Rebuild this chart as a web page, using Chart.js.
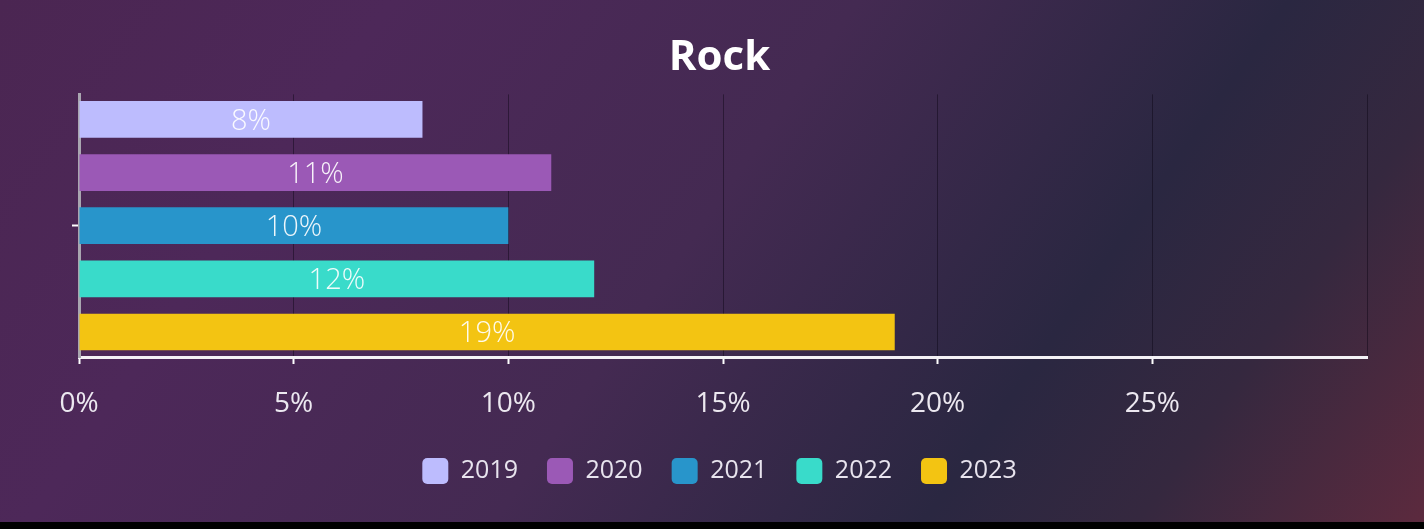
<!DOCTYPE html>
<html>
<head>
<meta charset="utf-8">
<script src="https://cdn.jsdelivr.net/npm/chart.js@4"></script>
<style>
  html, body { margin: 0; padding: 0; background: #000; }
  #wrap {
    width: 1424px; height: 522px; position: relative;
    background: linear-gradient(125deg, #4b2652 0%, #4d2859 22%, #442a52 48%, #2a2741 72%, #35283f 84%, #5c2a3e 100%);
  }
  canvas { display: block; }
</style>
</head>
<body>
<div id="wrap"><canvas id="c" width="1424" height="522"></canvas></div>
<script>
const categories = ['Rock'];
const seriesNames = ['2019', '2020', '2021', '2022', '2023'];
const values2019 = [8];
const values2020 = [11];
const values2021 = [10];
const values2022 = [12];
const values2023 = [19];
const seriesColors = ['#bdbcfe', '#9b59b6', '#2895cb', '#39dbca', '#f3c412'];
const xTickValues = [0, 5, 10, 15, 20, 25, 30];

const FONT = '"Open Sans", "Noto Sans", sans-serif';
const allValues = [values2019, values2020, values2021, values2022, values2023];

const labelPlugin = {
  id: 'barLabels',
  afterDatasetsDraw(chart) {
    const ctx = chart.ctx;
    ctx.save();
    ctx.font = '300 29px ' + FONT;
    ctx.fillStyle = 'rgba(255,255,255,0.92)';
    ctx.textAlign = 'center';
    ctx.textBaseline = 'middle';
    chart.data.datasets.forEach((ds, i) => {
      const meta = chart.getDatasetMeta(i);
      meta.data.forEach((bar, j) => {
        const cx = (bar.x + bar.base) / 2;
        ctx.fillText(ds.data[j] + '%', cx, bar.y + 2);
      });
    });
    ctx.restore();
  }
};

new Chart(document.getElementById('c'), {
  type: 'bar',
  data: {
    labels: categories,
    datasets: seriesNames.map((n, i) => ({
      label: n,
      data: allValues[i],
      backgroundColor: seriesColors[i],
      borderWidth: 0,
      categoryPercentage: 1.012,
      barPercentage: 0.69
    }))
  },
  options: {
    indexAxis: 'y',
    responsive: false,
    animation: false,
    layout: { padding: { left: 72, right: 57, top: 33, bottom: 28 } },
    plugins: {
      title: {
        display: true, text: 'Rock', color: '#ffffff',
        font: { family: FONT, size: 42, weight: '700' },
        padding: { top: 0, bottom: 11 }
      },
      legend: {
        position: 'bottom',
        labels: {
          color: '#e8e4ee',
          font: { family: FONT, size: 25 },
          boxWidth: 26, boxHeight: 26, useBorderRadius: true, borderRadius: 5,
          padding: 29
        }
      },
      tooltip: { enabled: false }
    },
    scales: {
      x: {
        min: 0, max: 30,
        afterBuildTicks(scale) { scale.ticks = xTickValues.map(v => ({ value: v })); },
        afterFit(scale) { scale.height = 72; },
        ticks: {
          color: '#ece8f0',
          font: { family: FONT, size: 28, lineHeight: 1.0 },
          padding: 26,
          callback: v => (v === 30 ? '' : v + '%')
        },
        grid: {
          color: 'rgba(10,5,20,0.45)', lineWidth: 1,
          tickColor: c => (c.tick && c.tick.value === 30 ? 'rgba(0,0,0,0)' : '#ffffff'),
          tickLength: 7, tickWidth: 2
        },
        border: { color: '#f4f2f6', width: 3 }
      },
      y: {
        ticks: { display: false },
        grid: {
          offset: false, color: 'rgba(0,0,0,0)', tickColor: '#ffffff',
          tickLength: 7, tickWidth: 2
        },
        border: { color: '#a9a6b0', width: 3 }
      }
    }
  },
  plugins: [labelPlugin]
});
</script>
</body>
</html>
